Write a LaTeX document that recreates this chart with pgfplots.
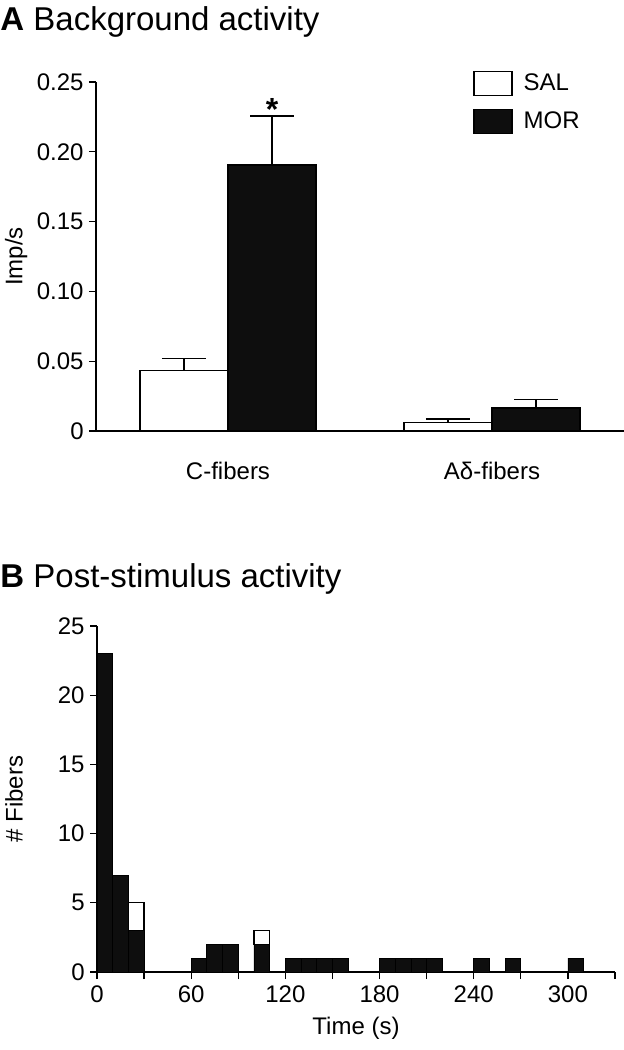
\documentclass[border=0pt]{standalone}
\usepackage{fontspec}
\setmainfont{Liberation Sans}
\usepackage{pgfplots}
\pgfplotsset{compat=1.18}
\definecolor{morfill}{RGB}{14,14,14}

\tikzset{
  salbar/.style={fill=white, draw=black, line width=0.65pt},
  morbar/.style={fill=morfill, draw=black, line width=0.65pt},
}
\pgfplotsset{
  panel/.style={
    scale only axis, enlargelimits=false,
    axis x line=bottom, axis y line=left,
    axis line style={-, line width=0.65pt},
    every tick/.style={black, line width=0.65pt},
    tick align=outside, major tick length=3.5pt, minor tick length=3.5pt,
    font=\fontsize{12}{14}\selectfont,
    /pgf/number format/assume math mode=true,
    yticklabel style={inner sep=0pt, xshift=-2.5pt},
    xticklabel style={inner sep=0pt, yshift=-3pt},
  },
  sem/.style={error bars/.cd, y dir=plus, y explicit, error mark=|,
    error bar style={line width=0.65pt, solid},
    error mark options={mark size=11pt, line width=0.65pt}},
}

\begin{document}
\begin{tikzpicture}
\useasboundingbox (0,0) rectangle (312pt,-525pt);

\node[anchor=base west, inner sep=0pt, font=\fontsize{16.5}{19}\selectfont]
  at (0,-15pt) {\textbf{A} Background activity};
\node[anchor=base west, inner sep=0pt, font=\fontsize{16.5}{19}\selectfont]
  at (0,-293.5pt) {\textbf{B} Post-stimulus activity};

% A: background activity (mean + SEM)
\begin{axis}[panel,
  at={(48pt,-215.5pt)}, anchor=south west, width=264pt, height=174.5pt,
  xmin=0.5, xmax=2.5, ymin=0, ymax=0.25,
  xtick={1,2}, xticklabels={C-fibers, Aδ-fibers},
  xtick style={draw=none},
  xticklabel style={yshift=-9pt},
  ytick={0,0.05,0.10,0.15,0.20,0.25},
  yticklabels={0,0.05,0.10,0.15,0.20,0.25},
  ylabel={Imp/s},
  ylabel style={at={(axis description cs:-0.173,0.5)}, anchor=north, inner sep=0pt},
  ybar, bar width=0.3333, bar shift=0pt,
  legend style={draw=none, fill=none, at={(rel axis cs:0.714,1.034)}, anchor=north west,
    inner sep=0pt, row sep=6.5pt, nodes={inner xsep=5.5pt, inner ysep=0pt},
    font=\fontsize{12}{14}\selectfont},
  legend cell align=left,
]
\addplot[salbar,
  legend image code/.code={\draw[salbar] (0pt,-6pt) rectangle (19pt,6pt);},
  sem]
  coordinates {(0.8333,0.0432) +- (0,0.0086) (1.8333,0.0059) +- (0,0.0027)};
\addlegendentry{SAL}
\addplot[morbar,
  legend image code/.code={\draw[morbar] (0pt,-6pt) rectangle (19pt,6pt);},
  sem]
  coordinates {(1.1667,0.1905) +- (0,0.0351) (2.1667,0.0165) +- (0,0.0062)};
\addlegendentry{MOR}
\node[anchor=base, inner sep=0pt, font=\bfseries\fontsize{16}{18}\selectfont]
  at (axis cs:1.1667,0.2225) {*};
\end{axis}

% B: post-stimulus histogram, 10 s bins, MOR below, SAL stacked on top
\begin{axis}[panel,
  at={(48.5pt,-486pt)}, anchor=south west, width=259pt, height=173pt,
  xmin=0, xmax=330, ymin=0, ymax=25,
  xtick={0,60,...,300}, minor xtick={30,90,...,330},
  ytick={0,5,...,25},
  xlabel={Time (s)}, ylabel={\# Fibers},
  ylabel style={at={(axis description cs:-0.178,0.5)}, anchor=north, inner sep=0pt},
  xlabel style={inner sep=0pt, yshift=-7pt},
  ybar stacked, bar width=10,
]
\addplot[morbar, line width=0.4pt] coordinates {
  (5,23) (15,7) (25,3) (65,1) (75,2) (85,2) (105,2)
  (125,1) (135,1) (145,1) (155,1) (185,1) (195,1) (205,1) (215,1)
  (245,1) (265,1) (305,1)};
\addplot[salbar, line width=0.65pt] coordinates {
  (5,0) (15,0) (25,2) (65,0) (75,0) (85,0) (105,1)
  (125,0) (135,0) (145,0) (155,0) (185,0) (195,0) (205,0) (215,0)
  (245,0) (265,0) (305,0)};
\end{axis}
\end{tikzpicture}
\end{document}
